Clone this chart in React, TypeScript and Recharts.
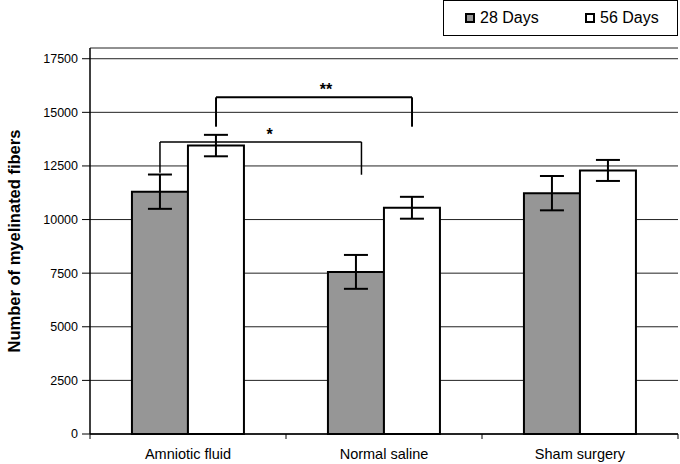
import { Bar, BarChart, CartesianGrid, ErrorBar, Label, Legend, ReferenceLine, XAxis, YAxis } from "recharts";

// values
const groups = ["Amniotic fluid", "Normal saline", "Sham surgery"];
const days28 = [11300, 7560, 11230];
const days28Err = [800, 790, 800];
const days56 = [13450, 10550, 12290];
const days56Err = [500, 510, 490];
const yTicks = [0, 2500, 5000, 7500, 10000, 12500, 15000, 17500];

// significance brackets, x in group units (0..3), y in fibers
const brackets = [
    { text: "*", x1: 0.357, x2: 1.385, top: 13620, leftEnd: 12180, rightEnd: 12090, width: 1.5, dx: 9 },
    { text: "**", x1: 0.643, x2: 1.643, top: 15700, leftEnd: 14330, rightEnd: 14330, width: 2, dx: 12 },
];

const data = groups.map((g, i) => ({
    group: g,
    pos: i + 0.5,
    d28: days28[i],
    e28: days28Err[i],
    d56: days56[i],
    e56: days56Err[i],
}));

const font = "'Liberation Sans', Arial, sans-serif";

function LegendBox() {
    const item = (left: number, fill: string, text: string) => (
        <>
            <div style={{ position: "absolute", left, top: 12, width: 6, height: 6, border: "2px solid #000", background: fill }} />
            <div style={{ position: "absolute", left: left + 15, top: 7, fontSize: 16, lineHeight: "20px" }}>{text}</div>
        </>
    );
    return (
        <div style={{ position: "relative", width: 233, height: 34, border: "1px solid #000", background: "#fff", fontFamily: font, color: "#000" }}>
            {item(21, "#969696", "28 Days")}
            {item(141, "#fff", "56 Days")}
        </div>
    );
}

function YTitle(props: any) {
    const vb = props.viewBox || { x: 0, y: 0, width: 0, height: 0 };
    const x = vb.x + 14;
    const y = vb.y + vb.height / 2;
    return (
        <text x={x} y={y} transform={`rotate(-90, ${x}, ${y})`} textAnchor="middle" dominantBaseline="central"
            style={{ fontWeight: "bold", fontSize: 16.5, fontFamily: font, fill: "#000" }}>
            Number of myelinated fibers
        </text>
    );
}

export default function App() {
    return (
        <div style={{ position: "absolute", left: 0, top: 0, background: "#fff" }}>
            <BarChart
                width={680}
                height={464}
                data={data}
                margin={{ top: 12, right: 2, left: 0, bottom: 0 }}
                barCategoryGap="21.4%"
                barGap={0}
            >
                <CartesianGrid horizontal vertical={false} stroke="#222" strokeWidth={1} xAxisId="b1" />
                <XAxis
                    xAxisId="a0"
                    dataKey="pos"
                    type="number"
                    domain={[0, 3]}
                    ticks={[0, 1, 2, 3]}
                    interval={0}
                    height={1}
                    tickFormatter={() => ""}
                    tickSize={5}
                    axisLine={{ stroke: "#000", strokeWidth: 1.5 }}
                    tickLine={{ stroke: "#000" }}
                />
                <XAxis
                    xAxisId="b1"
                    dataKey="group"
                    height={29}
                    axisLine={false}
                    tickLine={false}
                    tickSize={0}
                    tickMargin={14}
                    tick={{ fill: "#000", fontSize: 14.5, fontFamily: font }}
                />
                <YAxis
                    width={90}
                    domain={[0, 18000]}
                    ticks={yTicks}
                    interval={0}
                    tickSize={8}
                    tickMargin={4}
                    axisLine={{ stroke: "#000", strokeWidth: 1.5 }}
                    tickLine={{ stroke: "#000" }}
                    tick={{ fill: "#000", fontSize: 12.5, fontFamily: font }}
                >
                    <Label content={YTitle} />
                </YAxis>
                <Legend verticalAlign="top" align="right" content={() => <LegendBox />} wrapperStyle={{ top: 0, right: 2, width: 235 }} />
                <Bar xAxisId="b1" dataKey="d28" name="28 Days" fill="#969696" stroke="#000" strokeWidth={2} isAnimationActive={false}>
                    <ErrorBar dataKey="e28" width={12} stroke="#000" strokeWidth={2} isAnimationActive={false} />
                </Bar>
                <Bar xAxisId="b1" dataKey="d56" name="56 Days" fill="#fff" stroke="#000" strokeWidth={2} isAnimationActive={false}>
                    <ErrorBar dataKey="e56" width={12} stroke="#000" strokeWidth={2} isAnimationActive={false} />
                </Bar>
                {brackets.flatMap((b, i) => [
                    <ReferenceLine key={`l${i}`} xAxisId="a0" stroke="#000" strokeWidth={b.width}
                        segment={[{ x: b.x1, y: b.leftEnd }, { x: b.x1, y: b.top }]} />,
                    <ReferenceLine key={`r${i}`} xAxisId="a0" stroke="#000" strokeWidth={b.width}
                        segment={[{ x: b.x2, y: b.rightEnd }, { x: b.x2, y: b.top }]} />,
                    <ReferenceLine key={`t${i}`} xAxisId="a0" stroke="#000" strokeWidth={b.width}
                        segment={[{ x: b.x1, y: b.top }, { x: b.x2, y: b.top }]}
                        label={{ value: b.text, position: "top", offset: 2, dx: b.dx, fill: "#000", fontSize: 16, fontWeight: "bold", fontFamily: font }} />,
                ])}
            </BarChart>
        </div>
    );
}
